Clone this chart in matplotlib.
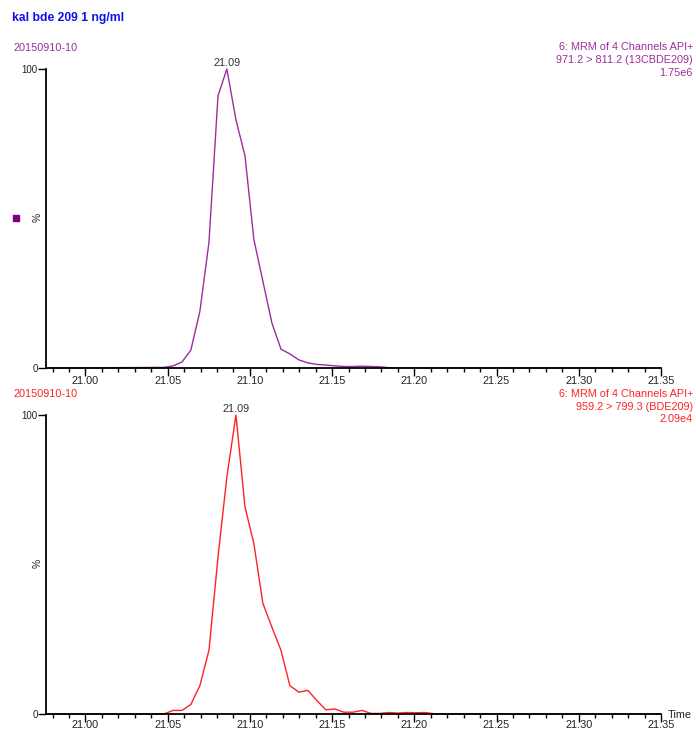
import matplotlib
matplotlib.use("Agg")
import matplotlib.pyplot as plt
from matplotlib.ticker import MultipleLocator

plt.rcParams['font.family'] = ['Liberation Sans', 'DejaVu Sans']

# retention time grid (min) and relative intensity (%)
top_time = [20.977, 21.0477, 21.0532, 21.0587, 21.0641, 21.0696, 21.0751, 21.0806,
            21.0860, 21.0915, 21.0970, 21.1024, 21.1079, 21.1134, 21.1189, 21.1243,
            21.1298, 21.1353, 21.1407, 21.1462, 21.1517, 21.1571, 21.1626, 21.1681,
            21.1736, 21.1790, 21.1845, 21.345]
top_int = [0, 0.2, 0.7, 2, 6, 19, 42, 91, 100, 83, 71, 43, 29, 15, 6.3, 4.7,
           2.7, 1.7, 1.2, 1.0, 0.7, 0.5, 0.5, 0.6, 0.5, 0.4, 0.1, 0]

bot_time = [20.977, 21.0477, 21.0532, 21.0587, 21.0641, 21.0696, 21.0751, 21.0806,
            21.0860, 21.0915, 21.0970, 21.1024, 21.1079, 21.1134, 21.1189, 21.1243,
            21.1298, 21.1353, 21.1407, 21.1462, 21.1517, 21.1571, 21.1626, 21.1681,
            21.1736, 21.1790, 21.1845, 21.1899, 21.1954, 21.2009, 21.2063, 21.2118,
            21.349]
bot_int = [0, 0, 1.2, 1.2, 3.2, 9.5, 21.3, 52.5, 79.3, 100, 69.3, 57, 37, 29,
           21.3, 9.5, 7.3, 7.9, 4.5, 1.4, 1.7, 0.6, 0.6, 1.2, 0.2, 0.2, 0.5, 0.3,
           0.5, 0.4, 0.5, 0.1, 0]

top_peak = 21.0860
bot_peak = 21.0915

W, H = 696, 730
purple = '#9a2e9e'
red = '#ff2222'

fig = plt.figure(figsize=(W / 100, H / 100), dpi=100)


def fx(px):
    return px / W


def fy(py):
    return 1 - py / H


def make_axes(y100, y0, pad):
    ax = fig.add_axes([fx(46), fy(y0), fx(661) - fx(46), fy(y100) - fy(y0)])
    ax.set_xlim(20.976, 21.35)
    ax.set_ylim(0, 100)
    for s in ('top', 'right'):
        ax.spines[s].set_visible(False)
    ax.spines['left'].set_linewidth(1.3)
    ax.spines['bottom'].set_linewidth(1.3)
    ax.xaxis.set_major_locator(MultipleLocator(0.05))
    ax.xaxis.set_minor_locator(MultipleLocator(0.01))
    ax.xaxis.set_major_formatter(matplotlib.ticker.FormatStrFormatter('%.2f'))
    ax.tick_params(axis='x', which='major', length=6, width=1, pad=pad,
                   labelsize=7.8, labelcolor='#222222')
    ax.tick_params(axis='x', which='minor', length=3, width=1)
    ax.set_yticks([0, 100])
    ax.set_yticklabels(['0', '100'])
    ax.tick_params(axis='y', length=6, width=1, pad=0, labelsize=7,
                   labelcolor='#222222')
    ax.patch.set_visible(False)
    return ax


ax1 = make_axes(69, 368, -0.3)
ax1.plot(top_time, top_int, color=purple, lw=1, clip_on=False)
ax1.text(top_peak, 100.9, '21.09', ha='center', va='baseline', fontsize=7.8,
         color='#333333', clip_on=False)

ax2 = make_axes(415, 714, -1.6)
ax2.plot(bot_time, bot_int, color=red, lw=1, clip_on=False)
ax2.text(bot_peak, 100.9, '21.09', ha='center', va='baseline', fontsize=7.8,
         color='#333333', clip_on=False)

# header texts
fig.text(fx(12), fy(18), 'kal bde 209 1 ng/ml', color='#1010ee', fontsize=8.7,
         fontweight='bold', ha='left', va='center')

fig.text(fx(13), fy(48), '20150910-10', color=purple, fontsize=7.8, ha='left', va='center')
for i, line in enumerate(['6: MRM of 4 Channels API+', '971.2 > 811.2 (13CBDE209)', '1.75e6']):
    fig.text(fx(693), fy(47.5 + 12.7 * i), line, color=purple, fontsize=7.8,
             ha='right', va='center')

fig.text(fx(13), fy(394), '20150910-10', color=red, fontsize=7.8, ha='left', va='center')
for i, line in enumerate(['6: MRM of 4 Channels API+', '959.2 > 799.3 (BDE209)', '2.09e4']):
    fig.text(fx(693), fy(394 + 12.6 * i), line, color=red, fontsize=7.8,
             ha='right', va='center')

# y-axis "%" labels and marker
fig.text(fx(37.5), fy(217.5), '%', rotation=90, fontsize=7.5, color='#222222',
         ha='center', va='center')
fig.text(fx(37.5), fy(563.5), '%', rotation=90, fontsize=7.5, color='#222222',
         ha='center', va='center')
fig.patches.append(matplotlib.patches.Rectangle((fx(13.3), fy(220.7)), fx(6), 6 / H,
                                                transform=fig.transFigure,
                                                color='#800080', figure=fig))

fig.text(fx(668), fy(715), 'Time', fontsize=7.8, color='#222222', ha='left', va='center')

fig.savefig('out.png', dpi=100)
